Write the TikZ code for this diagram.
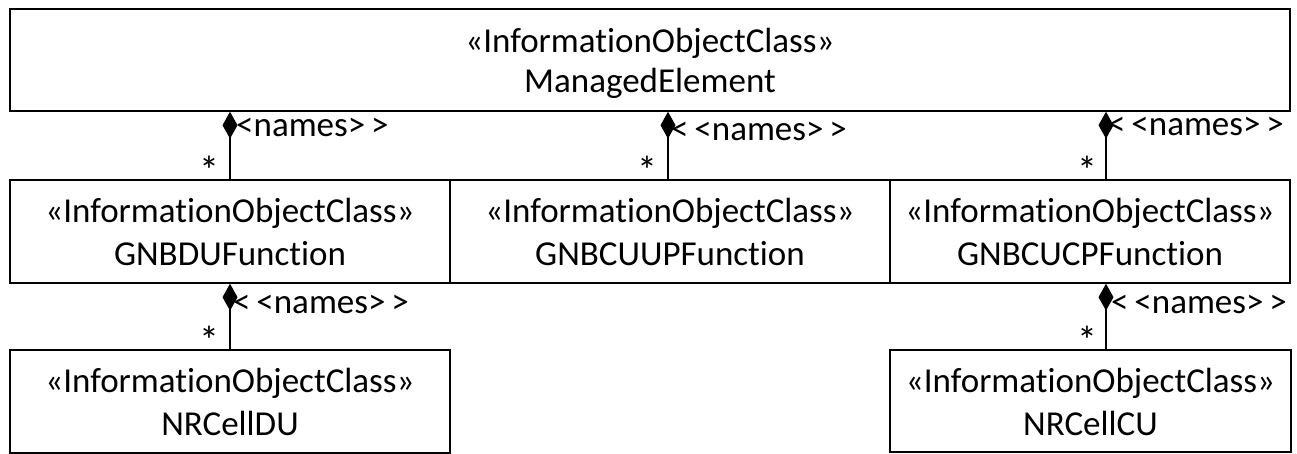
\documentclass[tikz,border=0pt]{standalone}
\usepackage{fontspec}
\setmainfont{Carlito}[Ligatures={TeXOff,CommonOff}]
\usetikzlibrary{arrows.meta,calc}
\begin{document}
\begin{tikzpicture}[x=1pt,y=-1pt,
  umlbox/.style={draw, line width=1.4pt, inner sep=0pt, minimum height=103pt, minimum width=#1},
  boxtext/.style={font=\fontsize{35}{42}\selectfont, anchor=base, inner sep=0pt},
  rolelabel/.style={font=\fontsize{35}{42}\selectfont, anchor=base west, inner sep=0pt},
  mult/.style={font=\fontsize{40}{42}\selectfont, anchor=north, inner sep=0pt},
  comp/.style={draw, line width=1.4pt, {Diamond[length=27pt,width=15pt,line width=0pt]}-}
]
\useasboundingbox (0,0) rectangle (1297,454);

% class boxes
\node[umlbox=1280pt, minimum height=102pt] (me) at (650,60) {};
\node[umlbox=440pt] (du)   at (230,231.5) {};
\node[umlbox=440pt] (cuup) at (670,231.5) {};
\node[umlbox=400pt] (cucp) at (1090,231.5) {};
\node[umlbox=440pt] (nrdu) at (230,401.5) {};
\node[umlbox=401pt, minimum height=102pt] (nrcu) at (1090.5,401) {};

% stereotypes and class names
\node[boxtext] (me1) at ($(me.north)+(0,44)$) {«InformationObjectClass»};
\node[boxtext] (me2) at ($(me.north)+(0,84)$) {ManagedElement};
\node[boxtext] (du1) at ($(du.north)+(0,43)$) {«InformationObjectClass»};
\node[boxtext] (du2) at ($(du.north)+(0,86)$) {GNBDUFunction};
\node[boxtext] (up1) at ($(cuup.north)+(0,43)$) {«InformationObjectClass»};
\node[boxtext] (up2) at ($(cuup.north)+(0,86)$) {GNBCUUPFunction};
\node[boxtext] (cp1) at ($(cucp.north)+(0,43)$) {«InformationObjectClass»};
\node[boxtext] (cp2) at ($(cucp.north)+(0,86)$) {GNBCUCPFunction};
\node[boxtext] (nd1) at ($(nrdu.north)+(0,43)$) {«InformationObjectClass»};
\node[boxtext] (nd2) at ($(nrdu.north)+(0,86)$) {NRCellDU};
\node[boxtext] (nc1) at ($(nrcu.north)+(0,43)$) {«InformationObjectClass»};
\node[boxtext] (nc2) at ($(nrcu.north)+(0,86)$) {NRCellCU};

% association end labels
\node[rolelabel] (r1) at (236,137) {<names>\,>};
\node[rolelabel] (r2) at (671,141) {<\,<names>\,>};
\node[rolelabel] (r3) at (1108,136) {<\,<names>\,>};
\node[rolelabel] (r4) at (233,313) {<\,<names>\,>};
\node[rolelabel] (r5) at (1111,313) {<\,<names>\,>};

% multiplicities
\node[mult] (s1) at (209,156) {*};
\node[mult] (s2) at (647,156) {*};
\node[mult] (s3) at (1087,156) {*};
\node[mult] (s4) at (209,326) {*};
\node[mult] (s5) at (1087,326) {*};

% composition connectors
\coordinate (cx2) at (668,0);
\coordinate (cx3) at (1106,0);
\draw[comp] (me.south -| du.north) -- (du.north);
\draw[comp] (me.south -| cx2) -- (cuup.north -| cx2);
\draw[comp] (me.south -| cx3) -- (cucp.north -| cx3);
\draw[comp] (du.south) -- (nrdu.north);
\draw[comp] (cucp.south -| cx3) -- (nrcu.north -| cx3);
\end{tikzpicture}
\end{document}
